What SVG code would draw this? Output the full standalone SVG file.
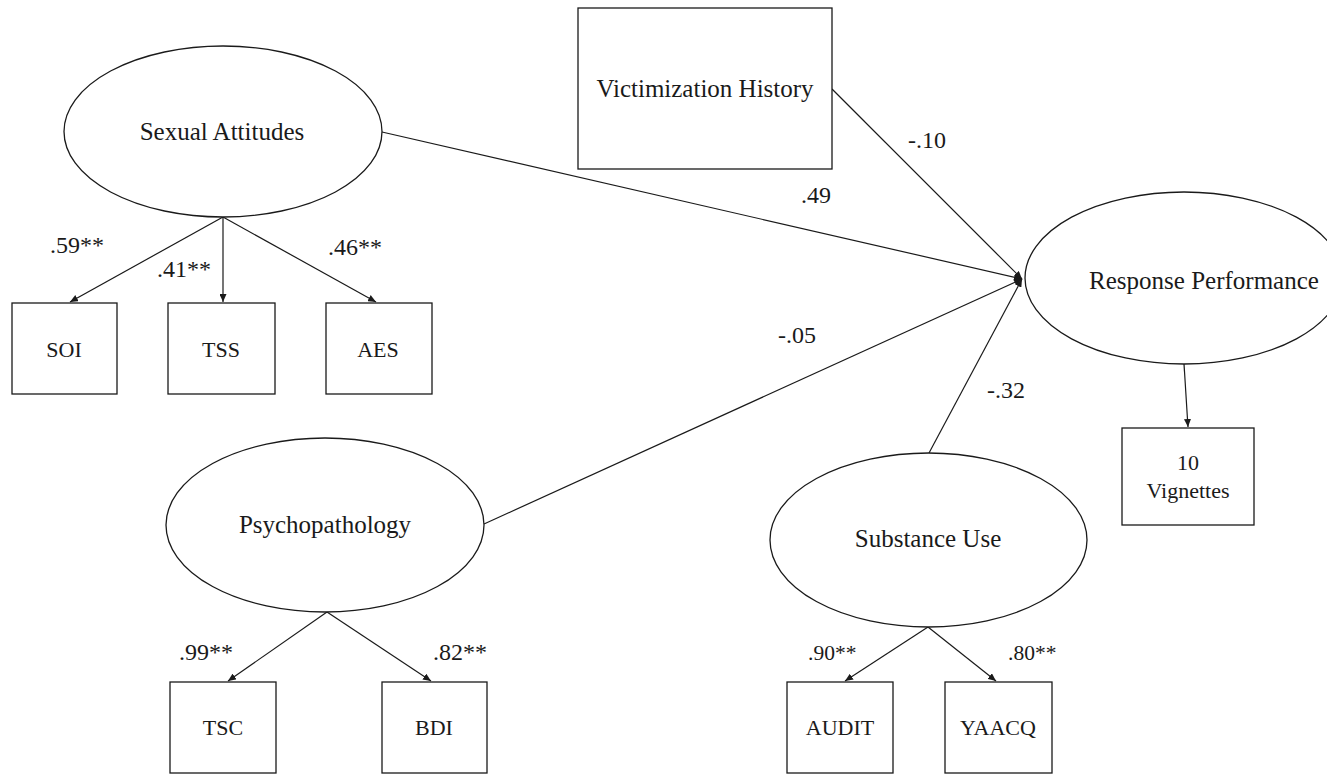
<svg xmlns="http://www.w3.org/2000/svg" width="1327" height="774" viewBox="0 0 1327 774">
<style>
  .shape { fill: #ffffff; stroke: #1a1a1a; stroke-width: 1.3; }
  .edge { fill: none; stroke: #1a1a1a; stroke-width: 1.2; }
  .arr { marker-end: url(#ah); }
  text { font-family: "Liberation Serif", "Times New Roman", serif; fill: #1a1a1a; }
  .big { font-size: 25px; text-anchor: middle; }
  .box { font-size: 22px; text-anchor: middle; }
  .lab { font-size: 24px; }
  .labs { font-size: 21.5px; }
</style>
<defs>
  <marker id="ah" viewBox="0 0 8 7" refX="8" refY="3.5" markerWidth="8" markerHeight="7" markerUnits="userSpaceOnUse" orient="auto">
    <path d="M0,0 L8,3.5 L0,7 z" fill="#1a1a1a"/>
  </marker>
</defs>
<rect x="0" y="0" width="1327" height="774" fill="#ffffff"/>

<g id="connectors">
  <line class="edge arr" x1="223" y1="217" x2="70" y2="302"/>
  <line class="edge arr" x1="223" y1="217" x2="223" y2="302"/>
  <line class="edge arr" x1="223" y1="217" x2="376" y2="302"/>
  <line class="edge arr" x1="382" y1="132" x2="1022" y2="279"/>
  <line class="edge arr" x1="832" y1="89" x2="1022" y2="279"/>
  <line class="edge arr" x1="484" y1="524" x2="1022" y2="279"/>
  <line class="edge arr" x1="929" y1="453" x2="1022" y2="279"/>
  <line class="edge arr" x1="1184" y1="364" x2="1188" y2="427"/>
  <line class="edge arr" x1="327" y1="612" x2="228" y2="681"/>
  <line class="edge arr" x1="327" y1="612" x2="431" y2="681"/>
  <line class="edge arr" x1="928" y1="627" x2="845" y2="681"/>
  <line class="edge arr" x1="928" y1="627" x2="996" y2="681"/>
  <text class="lab" x="50" y="253">.59**</text>
  <text class="lab" x="157" y="277">.41**</text>
  <text class="lab" x="328" y="255">.46**</text>
  <text class="lab" x="801" y="203">.49</text>
  <text class="lab" x="908" y="148">-.10</text>
  <text class="lab" x="778" y="343">-.05</text>
  <text class="lab" x="987" y="398">-.32</text>
  <text class="lab" x="179" y="660">.99**</text>
  <text class="lab" x="433" y="660">.82**</text>
  <text class="labs" x="808" y="660">.90**</text>
  <text class="labs" x="1008" y="660">.80**</text>
</g>

<g id="sexual-attitudes">
  <ellipse class="shape" cx="223" cy="131.5" rx="159" ry="85.5"/>
  <text class="big" x="222" y="140">Sexual Attitudes</text>
</g>
<g id="soi">
  <rect class="shape" x="12" y="303" width="105" height="91"/>
  <text class="box" x="64" y="357">SOI</text>
</g>
<g id="tss">
  <rect class="shape" x="168" y="303" width="107" height="91"/>
  <text class="box" x="221" y="357">TSS</text>
</g>
<g id="aes">
  <rect class="shape" x="326" y="303" width="106" height="91"/>
  <text class="box" x="378" y="357">AES</text>
</g>
<g id="victimization-history">
  <rect class="shape" x="578" y="8" width="254" height="161"/>
  <text class="big" x="705" y="97">Victimization History</text>
</g>
<g id="response-performance">
  <ellipse class="shape" cx="1184" cy="278" rx="159" ry="86"/>
  <text class="big" x="1204" y="289">Response Performance</text>
</g>
<g id="vignettes">
  <rect class="shape" x="1122" y="428" width="132" height="97"/>
  <text class="box" x="1188" y="470">10</text>
  <text class="box" x="1188" y="498">Vignettes</text>
</g>
<g id="psychopathology">
  <ellipse class="shape" cx="325" cy="525" rx="159" ry="87"/>
  <text class="big" x="325" y="533">Psychopathology</text>
</g>
<g id="tsc">
  <rect class="shape" x="170" y="682" width="106" height="91"/>
  <text class="box" x="223" y="735">TSC</text>
</g>
<g id="bdi">
  <rect class="shape" x="382" y="682" width="105" height="91"/>
  <text class="box" x="434" y="735">BDI</text>
</g>
<g id="substance-use">
  <ellipse class="shape" cx="928.5" cy="540" rx="158.5" ry="87"/>
  <text class="big" x="928" y="547">Substance Use</text>
</g>
<g id="audit">
  <rect class="shape" x="787" y="682" width="106" height="91"/>
  <text class="box" x="840" y="735">AUDIT</text>
</g>
<g id="yaacq">
  <rect class="shape" x="945" y="682" width="107" height="91"/>
  <text class="box" x="998" y="735">YAACQ</text>
</g>
</svg>
